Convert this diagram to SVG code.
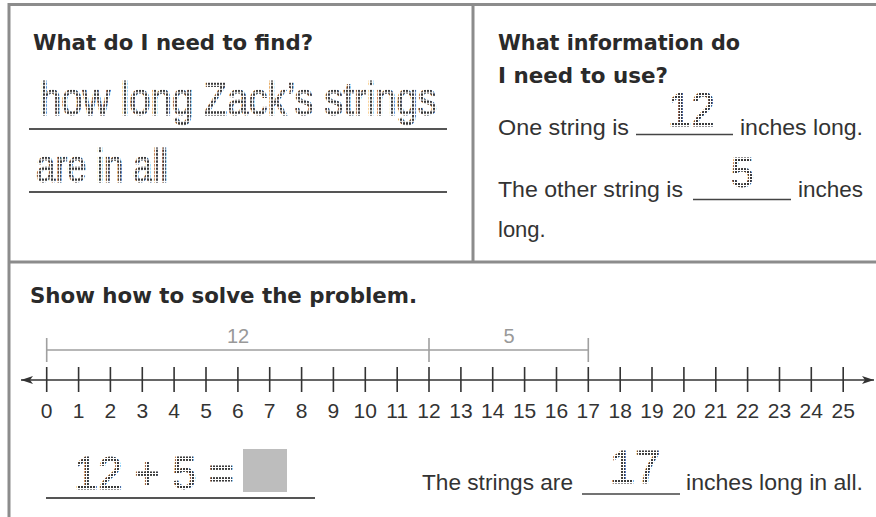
<svg xmlns="http://www.w3.org/2000/svg" width="876" height="517" viewBox="0 0 876 517">
<style>
.frame{stroke:#8c8c8c;stroke-width:3;fill:none}
.head{font-family:"DejaVu Sans",sans-serif;font-weight:bold;font-size:21px;fill:#2a2a2a}
.txt{font-family:"Liberation Sans",Arial,sans-serif;font-size:22px;fill:#333}
.dot{font-family:"Liberation Sans",Arial,sans-serif;fill:url(#dots);stroke:url(#dots);stroke-width:0.8}
.rule{stroke:#555;stroke-width:2}
.blank{stroke:#444;stroke-width:1.5}
.axis{stroke:#333;stroke-width:1.6}
.tick{stroke:#333;stroke-width:1.6}
.num{font-family:"Liberation Sans",Arial,sans-serif;font-size:21px;fill:#333;text-anchor:middle}
.br{stroke:#a0a0a0;stroke-width:1.6;fill:none}
.brl{font-family:"Liberation Sans",Arial,sans-serif;font-size:20px;fill:#999;text-anchor:middle}
</style>
<defs>
<pattern id="dots" width="3" height="3" patternUnits="userSpaceOnUse">
<rect width="2" height="2" fill="#3a3a3a"/>
</pattern>
<marker id="arr" viewBox="0 0 12 8" refX="12" refY="4" markerWidth="12" markerHeight="8" markerUnits="userSpaceOnUse" orient="auto-start-reverse">
<path d="M0,0 L12,4 L0,8 L3,4 Z" fill="#333"/>
</marker>
</defs>
<rect width="876" height="517" fill="#fff"/>
<g id="frame">
<path class="frame" d="M9,517 V4.5 H876 M9,262 H876 M473,4.5 V262"/>
</g>
<g id="find">
<text class="head" x="33" y="50" textLength="280" lengthAdjust="spacingAndGlyphs">What do I need to find?</text>
<text class="dot" transform="translate(40,115) scale(1,1.2)" x="0" y="0" font-size="38" textLength="397" lengthAdjust="spacingAndGlyphs">how long Zack’s strings</text>
<line class="rule" x1="29" y1="129" x2="447" y2="129"/>
<text class="dot" transform="translate(36,182) scale(1,1.2)" x="0" y="0" font-size="38" textLength="132" lengthAdjust="spacingAndGlyphs">are in all</text>
<line class="rule" x1="29" y1="192" x2="447" y2="192"/>
</g>
<g id="info">
<text class="head" x="498" y="50" textLength="242" lengthAdjust="spacingAndGlyphs">What information do</text>
<text class="head" x="498" y="83" textLength="170" lengthAdjust="spacingAndGlyphs">I need to use?</text>
<text class="txt" x="498" y="135" textLength="131" lengthAdjust="spacingAndGlyphs">One string is</text>
<line class="blank" x1="636" y1="134.5" x2="733" y2="134.5"/>
<text class="dot" x="668" y="126" font-size="48" textLength="47" lengthAdjust="spacingAndGlyphs">12</text>
<text class="txt" x="740" y="135" textLength="123" lengthAdjust="spacingAndGlyphs">inches long.</text>
<text class="txt" x="498" y="197" textLength="185" lengthAdjust="spacingAndGlyphs">The other string is</text>
<line class="blank" x1="693" y1="199.5" x2="791" y2="199.5"/>
<text class="dot" x="742.5" y="187" font-size="42" text-anchor="middle">5</text>
<text class="txt" x="798" y="197" textLength="65" lengthAdjust="spacingAndGlyphs">inches</text>
<text class="txt" x="498" y="237">long.</text>
</g>
<g id="solve">
<text class="head" x="30" y="303" textLength="387" lengthAdjust="spacingAndGlyphs">Show how to solve the problem.</text>
</g>
<g id="brackets">
<path class="br" d="M46.7,350 H588.3 M46.7,338 V362 M429,338 V362 M588.3,338 V362"/>
<text class="brl" x="238" y="343">12</text>
<text class="brl" x="509" y="343">5</text>
</g>
<g id="numberline">
<line class="axis" x1="21" y1="380" x2="874" y2="380" marker-start="url(#arr)" marker-end="url(#arr)"/>
<path class="tick" d="M46.7,367V392 M78.6,367V392 M110.4,367V392 M142.3,367V392 M174.1,367V392 M206,367V392 M237.9,367V392 M269.7,367V392 M301.6,367V392 M333.4,367V392 M365.3,367V392 M397.2,367V392 M429,367V392 M460.9,367V392 M492.7,367V392 M524.6,367V392 M556.5,367V392 M588.3,367V392 M620.2,367V392 M652,367V392 M683.9,367V392 M715.8,367V392 M747.6,367V392 M779.5,367V392 M811.3,367V392 M843.2,367V392"/>
<text class="num" x="46.7" y="418">0</text>
<text class="num" x="78.6" y="418">1</text>
<text class="num" x="110.4" y="418">2</text>
<text class="num" x="142.3" y="418">3</text>
<text class="num" x="174.1" y="418">4</text>
<text class="num" x="206" y="418">5</text>
<text class="num" x="237.9" y="418">6</text>
<text class="num" x="269.7" y="418">7</text>
<text class="num" x="301.6" y="418">8</text>
<text class="num" x="333.4" y="418">9</text>
<text class="num" x="365.3" y="418">10</text>
<text class="num" x="397.2" y="418">11</text>
<text class="num" x="429" y="418">12</text>
<text class="num" x="460.9" y="418">13</text>
<text class="num" x="492.7" y="418">14</text>
<text class="num" x="524.6" y="418">15</text>
<text class="num" x="556.5" y="418">16</text>
<text class="num" x="588.3" y="418">17</text>
<text class="num" x="620.2" y="418">18</text>
<text class="num" x="652" y="418">19</text>
<text class="num" x="683.9" y="418">20</text>
<text class="num" x="715.8" y="418">21</text>
<text class="num" x="747.6" y="418">22</text>
<text class="num" x="779.5" y="418">23</text>
<text class="num" x="811.3" y="418">24</text>
<text class="num" x="843.2" y="418">25</text>
</g>
<g id="equation">
<text class="dot" x="74" y="489" font-size="47" textLength="160" lengthAdjust="spacingAndGlyphs">12 + 5 =</text>
<rect x="243" y="449" width="44" height="43" fill="#bdbdbd"/>
<line class="rule" x1="46" y1="498" x2="315" y2="498"/>
</g>
<g id="answer">
<text class="txt" x="422" y="490" textLength="151" lengthAdjust="spacingAndGlyphs">The strings are</text>
<line class="blank" x1="582" y1="494" x2="680" y2="494"/>
<text class="dot" x="635" y="483" font-size="46" text-anchor="middle">17</text>
<text class="txt" x="686" y="490" textLength="177" lengthAdjust="spacingAndGlyphs">inches long in all.</text>
</g>
</svg>
